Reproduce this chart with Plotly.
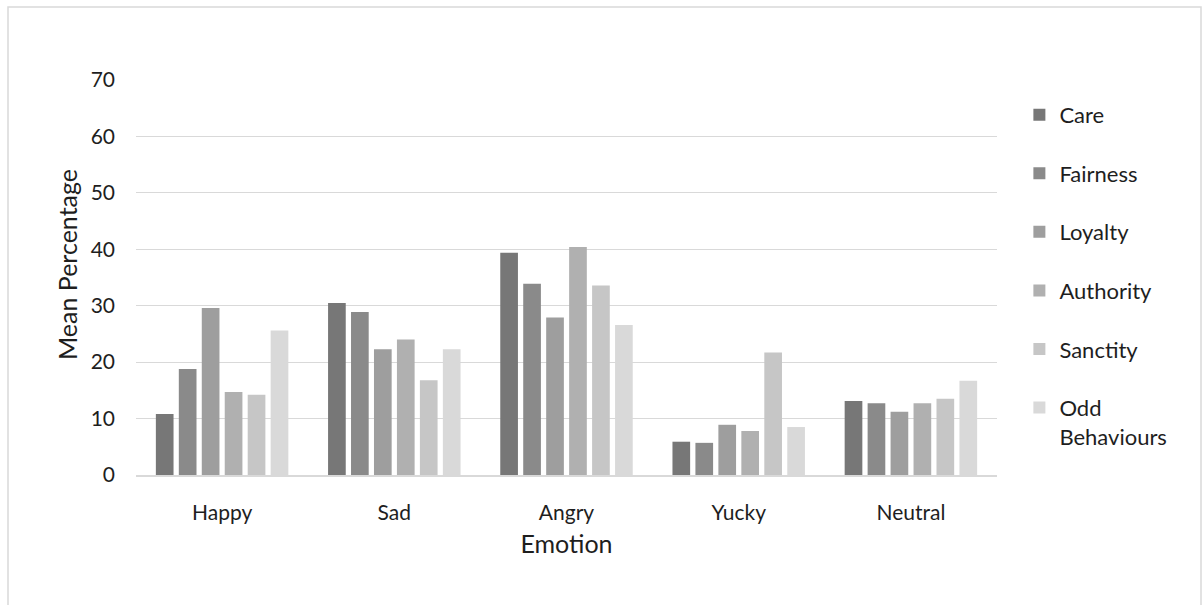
import plotly.graph_objects as go

emotions = ["Happy", "Sad", "Angry", "Yucky", "Neutral"]
foundations = ["Care", "Fairness", "Loyalty", "Authority", "Sanctity", "Odd<br>Behaviours"]

care = [10.8, 30.5, 39.4, 5.9, 13.1]
fairness = [18.8, 28.9, 33.9, 5.7, 12.7]
loyalty = [29.6, 22.3, 27.9, 8.9, 11.2]
authority = [14.7, 24.0, 40.4, 7.8, 12.7]
sanctity = [14.2, 16.8, 33.6, 21.7, 13.5]
odd_behaviours = [25.6, 22.3, 26.6, 8.5, 16.7]

series = [care, fairness, loyalty, authority, sanctity, odd_behaviours]
colors = ["#777777", "#8a8a8a", "#9e9e9e", "#b0b0b0", "#c6c6c6", "#d9d9d9"]

FONT = "Lato"
TEXT = "#1e1e1e"

fig = go.Figure()
for name, vals, col in zip(foundations, series, colors):
    fig.add_trace(go.Bar(
        x=emotions, y=vals, name=name, legendgroup=name,
        marker=dict(color=col, line=dict(width=0)),
    ))

fig.update_layout(
    width=1202, height=605,
    margin=dict(l=136, r=205, t=80, b=130, autoexpand=False),
    paper_bgcolor="white", plot_bgcolor="white",
    barmode="group", bargap=0.2, bargroupgap=0.23,
    font=dict(family=FONT, color=TEXT, size=20),
    legend=dict(
        x=1.026, xanchor="left", y=0.965, yanchor="top",
        font=dict(family=FONT, size=22, color=TEXT),
        tracegroupgap=27, valign="top", traceorder="grouped",
        bgcolor="rgba(0,0,0,0)",
    ),
    showlegend=True,
)

fig.update_yaxes(
    range=[0, 70], dtick=10, showgrid=True, gridcolor="#d9d9d9", gridwidth=1.3,
    zeroline=False, showline=False, ticks="",
    tickfont=dict(family=FONT, size=21, color=TEXT), ticklabelstandoff=20,
)
fig.update_xaxes(
    showgrid=False, showline=True, linecolor="#d9d9d9", linewidth=1.5, ticks="",
    tickfont=dict(family=FONT, size=21, color=TEXT), ticklabelstandoff=18,
    title=dict(text="Emotion", font=dict(family=FONT, size=25, color=TEXT), standoff=13),
)

# y-axis title, sitting slightly above the plot's vertical centre
fig.add_annotation(
    text="Mean Percentage", textangle=-90, showarrow=False,
    xref="paper", yref="paper", x=(67 - 136) / 861, y=(475 - 265) / 395,
    xanchor="center", yanchor="middle",
    font=dict(family=FONT, size=25, color=TEXT),
)

# chart frame
fig.add_shape(
    type="rect", xref="paper", yref="paper",
    x0=(8 - 136) / 861, x1=(1201 - 136) / 861,
    y0=-(620 - 475) / 395, y1=1 + (80 - 7) / 395,
    line=dict(color="#d9d9d9", width=1.5), fillcolor="rgba(0,0,0,0)", layer="below",
)

fig.write_html("out.html")
